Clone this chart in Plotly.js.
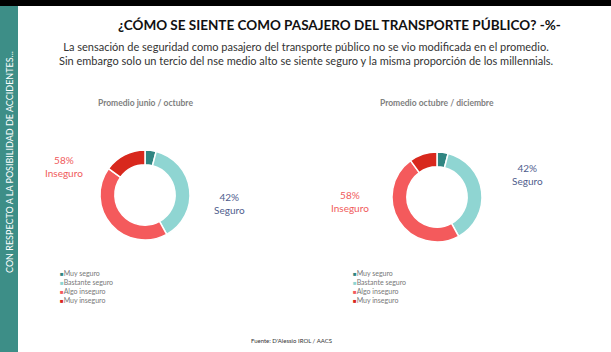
<!DOCTYPE html>
<html>
<head>
<meta charset="utf-8">
<script src="https://cdn.plot.ly/plotly-3.0.1.min.js"></script>
<style>html,body{margin:0;padding:0;background:#fff;}#chart{width:611px;height:352px;}</style>
</head>
<body>
<div id="chart"></div>
<script>
// ---- data ----
const categories = ["Muy seguro", "Bastante seguro", "Algo inseguro", "Muy inseguro"];
const valuesJunOct = [4, 38, 43, 15];
const valuesOctDic = [4, 38, 48, 10];
const panelTitles = ["Promedio junio / octubre", "Promedio octubre / diciembre"];
const groupLabels = ["Seguro", "Inseguro"];
const sliceColors = ["#2f8581", "#8fd5d2", "#f45a5c", "#d8281d"];

const W = 611, H = 352;
const px = x => x / W;
const py = y => 1 - y / H;

function pieTrace(vals, cx, cy, r) {
  return {
    type: "pie", values: vals, labels: categories, sort: false,
    direction: "clockwise", rotation: 0, hole: 0.67,
    marker: {colors: sliceColors, line: {color: "#ffffff", width: 1.5}},
    textinfo: "none", hoverinfo: "label+percent", showlegend: false,
    domain: {x: [px(cx - r), px(cx + r)], y: [py(cy + r), py(cy - r)]}
  };
}
const sum = a => a.reduce((s, v) => s + v, 0);
const pct = (vals, idx) => Math.round(100 * sum(idx.map(i => vals[i])) / sum(vals)) + "%";

const legendText = categories.map((c, i) =>
  `<span style="color:${sliceColors[i]};font-size:6px">■</span>${c}`).join("<br>");

const SEG = "#4f5d8d", INS = "#f05a5b";
const font = "Lato, 'Open Sans', sans-serif";

const annotations = [
  {x: px(339), y: py(25), text: "<b>¿CÓMO SE SIENTE COMO PASAJERO DEL TRANSPORTE PÚBLICO? -%-</b>", font: {size: 13.5, color: "#111", family: font}},
  {x: px(306), y: py(53), text: "La sensación de seguridad como pasajero del transporte público no se vio modificada en el promedio.<br>Sin embargo solo un tercio del nse medio alto se siente seguro y la misma proporción de los millennials.", font: {size: 11, color: "#333", family: font}},
  {x: px(145), y: py(103), text: "<b>" + panelTitles[0] + "</b>", font: {size: 8.5, color: "#808080", family: font}},
  {x: px(437), y: py(103), text: "<b>" + panelTitles[1] + "</b>", font: {size: 8.5, color: "#808080", family: font}},
  {x: px(64), y: py(167), text: pct(valuesJunOct, [2, 3]) + "<br>" + groupLabels[1], font: {size: 10, color: INS, family: font}},
  {x: px(229), y: py(203), text: pct(valuesJunOct, [0, 1]) + "<br>" + groupLabels[0], font: {size: 10, color: SEG, family: font}},
  {x: px(527), y: py(174), text: pct(valuesOctDic, [0, 1]) + "<br>" + groupLabels[0], font: {size: 10, color: SEG, family: font}},
  {x: px(350), y: py(201), text: pct(valuesOctDic, [2, 3]) + "<br>" + groupLabels[1], font: {size: 10, color: INS, family: font}},
  {x: px(58), y: py(267), xanchor: "left", yanchor: "top", align: "left", text: legendText, font: {size: 7, color: "#777", family: font}},
  {x: px(351), y: py(267), xanchor: "left", yanchor: "top", align: "left", text: legendText, font: {size: 7, color: "#777", family: font}},
  {x: px(291), y: py(340), text: "Fuente: D'Alessio IROL / AACS", font: {size: 6, color: "#333", family: font}},
  {x: px(9), y: py(162), textangle: -90, text: "CON RESPECTO A LA POSIBILIDAD DE ACCIDENTES...", font: {size: 9, color: "#ffffff", family: font}}
].map(a => Object.assign({xref: "paper", yref: "paper", showarrow: false, xanchor: "center", yanchor: "middle"}, a));

const shapes = [
  {type: "rect", xref: "paper", yref: "paper", x0: 0, x1: 1, y0: py(6), y1: 1, fillcolor: "#000", line: {width: 0}, layer: "below"},
  {type: "rect", xref: "paper", yref: "paper", x0: 0, x1: px(18), y0: 0, y1: py(6), fillcolor: "#3d8e87", line: {width: 0}, layer: "below"}
];

const layout = {
  width: W, height: H, margin: {l: 0, r: 0, t: 0, b: 0},
  paper_bgcolor: "#ffffff", plot_bgcolor: "#ffffff",
  showlegend: false, annotations, shapes, font: {family: font}
};

Plotly.newPlot("chart", [pieTrace(valuesJunOct, 145, 195, 45), pieTrace(valuesOctDic, 437, 197, 45)], layout, {displayModeBar: false, staticPlot: true});
</script>
</body>
</html>
